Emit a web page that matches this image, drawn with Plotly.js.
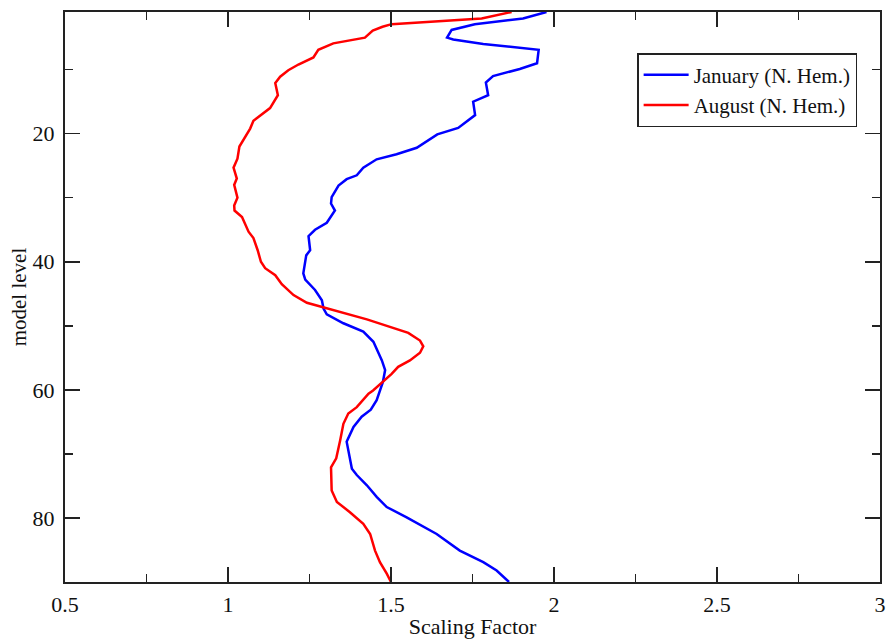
<!DOCTYPE html>
<html>
<head>
<meta charset="utf-8">
<script src="https://cdn.plot.ly/plotly-3.0.1.min.js"></script>
<style>html,body{margin:0;padding:0;background:#fff;}#chart{width:888px;height:639px;}</style>
</head>
<body>
<div id="chart"></div>
<script>
const janLevels = [1, 2.0, 2.9, 3.8, 5.0, 5.3, 6.0, 6.9, 9.0, 9.9, 11.0, 12.0, 14.0, 15.0, 17.1, 19.1, 20.1, 22.2, 23.2, 24.0, 25.3, 26.5, 27.1, 28.1, 29.9, 30.9, 32.0, 33.9, 35.0, 36.0, 38.2, 39.0, 41.8, 42.8, 44.4, 46.0, 47.3, 48.2, 49.6, 50.9, 52.5, 55.4, 56.9, 58.8, 61.6, 63.1, 64.2, 65.8, 68.1, 70.5, 72.3, 73.3, 74.9, 76.7, 78.3, 79.9, 82.5, 85.1, 86.9, 88.2, 90];
const janValues = [1.977, 1.905, 1.757, 1.686, 1.672, 1.691, 1.783, 1.953, 1.948, 1.895, 1.813, 1.791, 1.798, 1.752, 1.758, 1.706, 1.642, 1.579, 1.517, 1.456, 1.415, 1.395, 1.364, 1.339, 1.318, 1.316, 1.328, 1.303, 1.267, 1.247, 1.252, 1.240, 1.231, 1.237, 1.267, 1.288, 1.293, 1.303, 1.354, 1.415, 1.446, 1.472, 1.482, 1.475, 1.456, 1.438, 1.410, 1.385, 1.364, 1.372, 1.380, 1.395, 1.426, 1.456, 1.487, 1.548, 1.640, 1.711, 1.783, 1.824, 1.862];

const augLevels = [1, 2.0, 2.9, 3.3, 3.9, 5.0, 5.9, 6.9, 8.1, 9.2, 10.1, 11.1, 12.1, 14.0, 16.0, 18.0, 19.2, 22.0, 23.9, 25.3, 27.0, 28.0, 30.0, 31.2, 32.0, 33.0, 35.3, 36.3, 38.2, 40.0, 41.0, 42.1, 43.5, 45.2, 46.4, 47.1, 49.0, 51.1, 52.3, 53.2, 54.2, 55.4, 56.4, 57.5, 58.9, 60.1, 60.6, 62.7, 63.7, 65.3, 67.9, 70.7, 72.1, 75.7, 77.5, 79.1, 80.9, 82.5, 85.1, 86.9, 88.7, 90];
const augValues = [1.870, 1.778, 1.502, 1.474, 1.444, 1.420, 1.323, 1.277, 1.262, 1.216, 1.185, 1.160, 1.145, 1.153, 1.129, 1.078, 1.068, 1.035, 1.029, 1.017, 1.027, 1.019, 1.029, 1.019, 1.020, 1.043, 1.063, 1.078, 1.091, 1.101, 1.114, 1.145, 1.165, 1.201, 1.242, 1.293, 1.426, 1.553, 1.589, 1.599, 1.589, 1.558, 1.522, 1.502, 1.472, 1.445, 1.431, 1.395, 1.369, 1.354, 1.344, 1.332, 1.316, 1.318, 1.334, 1.374, 1.415, 1.436, 1.451, 1.466, 1.487, 1.500];

const seriesNames = ["January (N. Hem.)", "August (N. Hem.)"];

const FONT = "'Liberation Serif', 'Times New Roman', serif";

const traces = [
  {x: janValues, y: janLevels, name: seriesNames[0], mode: "lines", type: "scatter",
   line: {color: "#0000ff", width: 2.5}},
  {x: augValues, y: augLevels, name: seriesNames[1], mode: "lines", type: "scatter",
   line: {color: "#ff0000", width: 2.5}}
];

const axisCommon = {
  showline: true, linecolor: "#222", linewidth: 2, mirror: "ticks",
  ticks: "inside", ticklen: 15, tickwidth: 1.5, tickcolor: "#222",
  showgrid: false, zeroline: false,
  tickfont: {family: FONT, size: 22, color: "#111"}
};

const layout = {
  width: 888, height: 639,
  margin: {l: 65, r: 8, t: 12, b: 57},
  paper_bgcolor: "#fff", plot_bgcolor: "#fff",
  font: {family: FONT, color: "#111"},
  xaxis: Object.assign({}, axisCommon, {
    range: [0.5, 3], tick0: 0.5, dtick: 0.5,
    minor: {ticks: "inside", ticklen: 8, tickwidth: 1.5, tickcolor: "#222", dtick: 0.25, tick0: 0.5},
    ticklabelstandoff: 2,
    title: {text: "Scaling Factor", font: {family: FONT, size: 22, color: "#111"}, standoff: 2}
  }),
  yaxis: Object.assign({}, axisCommon, {
    range: [90, 1], tick0: 0, dtick: 20,
    minor: {ticks: "inside", ticklen: 8, tickwidth: 1.5, tickcolor: "#222", dtick: 10, tick0: 0},
    ticklabelstandoff: 4,
    title: {text: "model level", font: {family: FONT, size: 21, color: "#111"}, standoff: 0}
  }),
  showlegend: true,
  legend: {
    x: 0.702, y: 0.928, xanchor: "left", yanchor: "top",
    bgcolor: "#fff", bordercolor: "#222", borderwidth: 1.5,
    font: {family: FONT, size: 21, color: "#111"},
    itemwidth: 45
  }
};

Plotly.newPlot("chart", traces, layout, {displayModeBar: false, staticPlot: true});
</script>
</body>
</html>
